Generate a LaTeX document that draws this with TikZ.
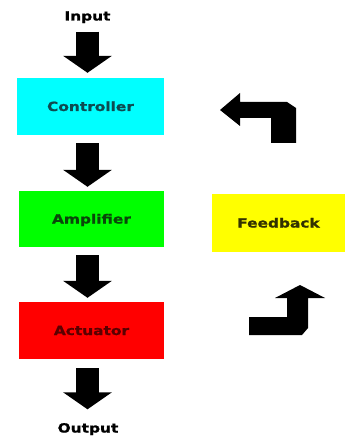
\documentclass[tikz,border=0pt]{standalone}
\usepackage{fontspec}
\usetikzlibrary{arrows.meta}

\newfontfamily\blockfont{DejaVu Sans}[FakeStretch=1.22, FakeBold=1.2]

\definecolor{ctrlfill}{RGB}{0,255,255}
\definecolor{ampfill}{RGB}{0,255,0}
\definecolor{actfill}{RGB}{255,0,0}
\definecolor{fbfill}{RGB}{255,255,0}
\definecolor{ctrltext}{RGB}{14,74,80}
\definecolor{amptext}{RGB}{10,70,10}
\definecolor{acttext}{RGB}{90,0,0}
\definecolor{fbtext}{RGB}{50,50,0}

\tikzset{
	blocklabel/.style={font=\blockfont\bfseries\fontsize{12.6}{14}\selectfont, inner sep=0pt, text height=9pt, text depth=0pt},
	block/.style={blocklabel, minimum width=145pt, minimum height=57pt},
	fatarrow/.style={line width=23pt, -{Triangle[length=17pt, width=48pt]}, black}
}

\begin{document}
\begin{tikzpicture}[x=1pt, y=-1pt]

\useasboundingbox (0,0) rectangle (346,438);

% Blocks of the forward path
\node[block, fill=ctrlfill, text=ctrltext, minimum width=147pt] (ctrl) at (90.5,106.5) {Controller};
\node[block, fill=ampfill, text=amptext, minimum height=56pt] (amp) at (91.5,219) {Amplifier};
\node[block, fill=actfill, text=acttext] (act) at (91.5,330.5) {Actuator};
\node[block, fill=fbfill, text=fbtext, minimum width=133pt, minimum height=58pt] (fb) at (278.5,223) {Feedback};

% Input and output labels
\node[blocklabel] (input) at (87.5,16) {Input};
\node[blocklabel] (output) at (88,428) {Output};

% Block arrows down the column
\coordinate (col) at (87.5,0);
\foreach \a/\b/\s/\e in {input/ctrl/11/5, ctrl/amp/8/4, amp/act/8/4, act/output/9/14} {
	\draw[fatarrow, shorten <=\s pt, shorten >=\e pt] (col |- \a.south) -- (col |- \b.north);
}

% Bent arrows of the feedback loop
\fill (220,110) -- (240,93) -- (240,102) -- (287,102) -- (296,108) -- (296,143)
	-- (271,143) -- (271,118) -- (240,118) -- (240,126) -- cycle;
\fill (300,285) -- (325,298) -- (308,298) -- (308,328) -- (302,335) -- (249,335)
	-- (249,317) -- (287,317) -- (287,298) -- (275,298) -- cycle;

\end{tikzpicture}
\end{document}
